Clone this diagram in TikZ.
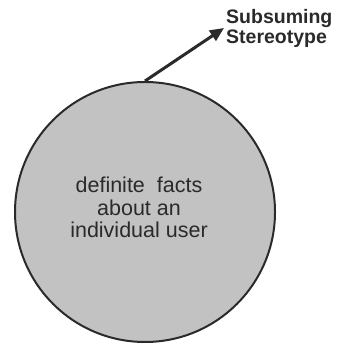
\documentclass[tikz,border=0pt]{standalone}
\usepackage{fontspec}
\setmainfont{Liberation Sans}
\usepackage{tikz}
\usetikzlibrary{arrows.meta, positioning}
\definecolor{stipple}{HTML}{C2C2C2}
\definecolor{inkgray}{HTML}{2A2A2A}

\begin{document}
\begin{tikzpicture}[
    x=1pt, y=1pt,
    facts/.style={circle, draw=inkgray, fill=stipple, line width=2pt, minimum size=260pt, inner sep=0pt},
    factstext/.style={align=center, text=inkgray, font=\fontsize{21.5}{22.5}\selectfont},
    stereo/.style={align=left, text=inkgray, inner sep=2pt, font=\fontsize{19.5}{20}\selectfont\bfseries},
    arrow/.style={-{Triangle[length=14pt, width=12pt]}, line width=3pt, draw=inkgray}
]
\useasboundingbox (0,0) rectangle (342,344);

\node[facts] (user) at (145,132) {};
\node[factstext] (userfacts) at (139,136.5) {definite\hskip 12pt facts\\about an\\individual user};

\node[stereo, anchor=west] (subsuming) at (224,316) {Subsuming\\Stereotype};

\draw[arrow] (user.north) -- (subsuming.west);

\end{tikzpicture}
\end{document}
